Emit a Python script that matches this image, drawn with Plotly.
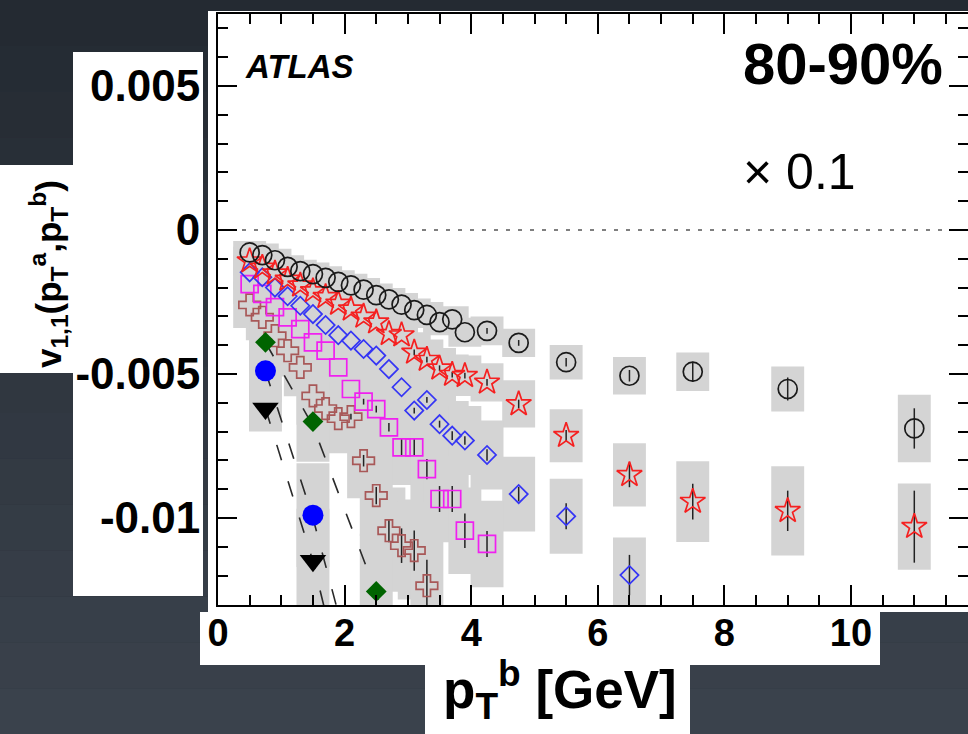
import plotly.graph_objects as go

# ---------------- data ----------------
pt_bins = [0.5, 0.7, 0.9, 1.1, 1.3, 1.5, 1.7, 1.9, 2.1, 2.3, 2.5, 2.7, 2.9, 3.1, 3.3,
           3.5, 3.7, 3.9, 4.25, 4.75, 5.5, 6.5, 7.5, 9.0, 11.0]

circ_y = [-0.00078, -0.00087, -0.00105, -0.00128, -0.00143, -0.00153, -0.00166, -0.00180,
          -0.00192, -0.00207, -0.00226, -0.00241, -0.00259, -0.00278, -0.00295, -0.00320,
          -0.00310, -0.00355, -0.00350, -0.00392, -0.00459, -0.00506, -0.00492, -0.00552,
          -0.00689]
circ_sys = [0.0004, 0.0004, 0.0004, 0.0004, 0.0004, 0.0004, 0.0004, 0.0004, 0.0004, 0.0004,
            0.0004, 0.0004, 0.0004, 0.0004, 0.00045, 0.00045, 0.00045, 0.0005, 0.0005, 0.00049,
            0.0006, 0.00065, 0.00067, 0.00078, 0.00117]
circ_err = [0, 0, 0, 0, 0, 0, 0, 0, 0, 0, 0, 0, 0, 0, 0, 0, 0, 0, 0.0001, 0.0001,
            0.00015, 0.0002, 0.00035, 0.0004, 0.0007]

star_y = [-0.00108, -0.00130, -0.00150, -0.00172, -0.00192, -0.00212, -0.00232, -0.00255,
          -0.00275, -0.00300, -0.00320, -0.00360, -0.00365, -0.00425, -0.00450, -0.00480,
          -0.00502, -0.00506, -0.00529, -0.00604, -0.00714, -0.00850, -0.00943, -0.00975,
          -0.01030]
star_sys = [0.0005, 0.0005, 0.0005, 0.0005, 0.0005, 0.00055, 0.00055, 0.00055, 0.0006, 0.0006,
            0.0006, 0.00065, 0.00065, 0.0007, 0.0007, 0.0007, 0.0007, 0.0007, 0.00066, 0.00082,
            0.00092, 0.0011, 0.0014, 0.00155, 0.0015]
star_err = [0, 0, 0, 0, 0, 0, 0, 0, 0, 0, 0, 0, 0, 0.0001, 0.0001, 0.0001, 0.0001, 0.0001,
            0.00012, 0.00015, 0.0002, 0.00043, 0.00062, 0.0007, 0.00125]

diam_x = [0.5, 0.7, 0.9, 1.1, 1.3, 1.5, 1.7, 1.9, 2.1, 2.3, 2.5, 2.7, 2.9, 3.1, 3.3,
          3.5, 3.7, 3.9, 4.25, 4.75, 5.5, 6.5]
diam_y = [-0.00147, -0.00164, -0.00200, -0.00230, -0.00263, -0.00292, -0.00330, -0.00365,
          -0.00384, -0.00413, -0.00436, -0.00483, -0.00546, -0.00627, -0.00590, -0.00674,
          -0.00714, -0.00731, -0.00781, -0.00917, -0.00994, -0.01198]
diam_sys = [0.0006, 0.0006, 0.0007, 0.0007, 0.0007, 0.0008, 0.0008, 0.0008, 0.0009, 0.0009,
            0.0009, 0.001, 0.001, 0.0011, 0.0011, 0.0011, 0.0012, 0.0012, 0.0012, 0.0013,
            0.0013, 0.0013]
diam_err = [0, 0, 0, 0, 0, 0, 0, 0, 0, 0, 0, 0, 0, 0.0001, 0.0001, 0.00012, 0.00015, 0.00015,
            0.0002, 0.00025, 0.00045, 0.0007]

sq_x = [0.5, 0.7, 0.9, 1.1, 1.3, 1.5, 1.7, 1.9, 2.1, 2.3, 2.5, 2.7, 2.9, 3.1, 3.3,
        3.5, 3.7, 3.9, 4.25]
sq_y = [-0.00188, -0.00222, -0.00268, -0.00303, -0.00344, -0.00390, -0.00419, -0.00477,
        -0.00552, -0.00596, -0.00622, -0.00685, -0.00755, -0.00755, -0.00830, -0.00934,
        -0.00934, -0.01044, -0.01090]
sq_sys = [0.0007, 0.0007, 0.0008, 0.0008, 0.0009, 0.0009, 0.001, 0.001, 0.0011, 0.0011,
          0.0012, 0.0012, 0.0013, 0.0013, 0.0014, 0.0014, 0.0015, 0.0015, 0.0015]
sq_err = [0, 0, 0, 0, 0, 0, 0, 0, 0, 0.0001, 0.00012, 0.00015, 0.0003, 0.0003, 0.00035,
          0.00045, 0.00045, 0.0006, 0.00045]

cross_x = [0.5, 0.7, 0.9, 1.1, 1.3, 1.5, 1.7, 1.9, 2.1, 2.3, 2.5, 2.7, 2.9, 3.1, 3.3]
cross_y = [-0.00260, -0.00303, -0.00367, -0.00419, -0.00477, -0.00576, -0.00620, -0.00655,
           -0.00648, -0.00801, -0.00922, -0.01044, -0.01096, -0.01113, -0.01235]
cross_sys = [0.0008, 0.0008, 0.0009, 0.0009, 0.001, 0.001, 0.0011, 0.0012, 0.0012, 0.0013,
             0.0014, 0.0015, 0.0016, 0.0017, 0.0018]
cross_err = [0, 0, 0, 0, 0, 0, 0, 0, 0.0001, 0.0002, 0.0003, 0.0004, 0.0006, 0.0007, 0.0009]

gdia_x = [0.75, 1.5, 2.5]
gdia_y = [-0.00390, -0.00665, -0.01255]
gdia_sys = [0.0011, 0.0014, 0.002]

bdot_x = [0.75, 1.5]
bdot_y = [-0.00489, -0.00990]
bdot_sys = [0.0011, 0.0018]

tri_x = [0.75, 1.5]
tri_y = [-0.00620, -0.01148]
tri_sys = [0.0008, 0.0018]

fit_green_x = [0.75, 1.5, 2.5, 2.6]
fit_green_y = [-0.0039, -0.0068, -0.0126, -0.0133]
fit_blue_x = [0.75, 1.5, 1.9]
fit_blue_y = [-0.0049, -0.0100, -0.0133]
fit_tri_x = [0.75, 1.5, 1.7]
fit_tri_y = [-0.0062, -0.0115, -0.0133]

zero_x = [0, 12]
zero_y = [0, 0]

y_tickvals = [0.005, 0, -0.005, -0.01]
y_ticktext = ["0.005", "0", "-0.005", "-0.01"]

BOX_W = 0.52

# ---------------- figure ----------------
W, H = 968, 734
L, R, T, B = 218, 0, 14, 129
PW, PH = W - L - R, H - T - B


def px_x(p):
    return (p - L) / PW


def px_y(p):
    return (H - B - p) / PH


fig = go.Figure()

# systematic boxes
box_sets = [
    (pt_bins, circ_y, circ_sys), (pt_bins, star_y, star_sys), (diam_x, diam_y, diam_sys),
    (sq_x, sq_y, sq_sys), (cross_x, cross_y, cross_sys), (gdia_x, gdia_y, gdia_sys),
    (bdot_x, bdot_y, bdot_sys), (tri_x, tri_y, tri_sys),
]
for xs, ys, ss in box_sets:
    fig.add_trace(go.Bar(
        x=xs, y=[2 * s for s in ss], base=[v - s for v, s in zip(ys, ss)],
        width=BOX_W, marker=dict(color="#d4d4d4", line=dict(width=0)),
        hoverinfo="skip", showlegend=False))

# zero line
fig.add_trace(go.Scatter(x=zero_x, y=zero_y, mode="lines",
                         line=dict(color="#555555", width=1.5, dash="4px,8px"),
                         hoverinfo="skip", showlegend=False))

# dashed curves
for fx, fy in [(fit_green_x, fit_green_y), (fit_blue_x, fit_blue_y), (fit_tri_x, fit_tri_y)]:
    fig.add_trace(go.Scatter(x=fx, y=fy, mode="lines",
                             line=dict(color="#2a2a2a", width=1.6, dash="16px,22px"),
                             hoverinfo="skip", showlegend=False))


def series(xs, ys, errs, symbol, size, color, lw=1.7):
    err = dict(type="data", array=errs, color="#222222", thickness=1.5, width=0) if errs else None
    fig.add_trace(go.Scatter(
        x=xs, y=ys, mode="markers", error_y=err,
        marker=dict(symbol=symbol, size=size, color=color, line=dict(width=lw, color=color)),
        showlegend=False))


series(cross_x, cross_y, cross_err, "cross-open", 18, "#a85858")
series(sq_x, sq_y, sq_err, "square-open", 17, "#f020f0")
series(diam_x, diam_y, diam_err, "diamond-open", 14, "#3535f5")
series(pt_bins, star_y, star_err, "star-open", 19, "#f52020")
series(pt_bins, circ_y, circ_err, "circle-open", 19, "#1a1a1a")
series(gdia_x, gdia_y, None, "diamond", 16, "#006400", 0)
series(bdot_x, bdot_y, None, "circle", 21, "#0000ff", 0)
series(tri_x, tri_y, None, "triangle-down", 23, "#000000", 0)

# ---------------- background patches ----------------
shapes = []
# dark vertical gradient background
top_c = (36, 42, 50)
bot_c = (58, 66, 76)
nb = 16
for i in range(nb):
    f = i / (nb - 1)
    c = tuple(round(a + (b - a) * f) for a, b in zip(top_c, bot_c))
    shapes.append(dict(type="rect", xref="paper", yref="paper", layer="below",
                       x0=px_x(0), x1=px_x(W), y0=px_y(H * (i + 1) / nb), y1=px_y(H * i / nb),
                       fillcolor="rgb(%d,%d,%d)" % c, line=dict(width=0)))
white_boxes = [
    (208, 11, 968, 612),   # plot image
    (73, 52, 203, 596),    # y tick labels
    (0, 165, 73, 373),     # y title
    (200, 612, 880, 665),  # x tick labels
    (425, 665, 690, 734),  # x title
]
for x0, y0, x1, y1 in white_boxes:
    shapes.append(dict(type="rect", xref="paper", yref="paper", layer="below",
                       x0=px_x(x0), x1=px_x(x1), y0=px_y(y1), y1=px_y(y0),
                       fillcolor="white", line=dict(width=0)))

FONT = "Liberation Sans, Arial, Helvetica, sans-serif"

annotations = [
    dict(text="<b><i>ATLAS</i></b>", x=px_x(243), y=px_y(67), xref="paper", yref="paper",
         xanchor="left", yanchor="middle", showarrow=False,
         font=dict(family=FONT, size=33, color="black")),
    dict(text="<b>80-90%</b>", x=px_x(741), y=px_y(64), xref="paper", yref="paper",
         xanchor="left", yanchor="middle", showarrow=False,
         font=dict(family=FONT, size=58, color="black")),
    dict(text="× 0.1", x=px_x(741), y=px_y(172), xref="paper", yref="paper",
         xanchor="left", yanchor="middle", showarrow=False,
         font=dict(family=FONT, size=50, color="black")),
    dict(text="<b>v<sub>1,1</sub>(p<sub>T</sub><sup>a</sup>,p<sub>T</sub><sup>b</sup>)</b>",
         x=px_x(48), y=px_y(274), xref="paper", yref="paper", textangle=-90,
         xanchor="center", yanchor="middle", showarrow=False,
         font=dict(family=FONT, size=35, color="black")),
    dict(text="<b>p<sub>T</sub><sup>b</sup> [GeV]</b>", x=px_x(560), y=px_y(689),
         xref="paper", yref="paper", xanchor="center", yanchor="middle", showarrow=False,
         font=dict(family=FONT, size=53, color="black")),
]

fig.update_layout(
    template="none",
    width=W, height=H,
    margin=dict(l=L, r=R, t=T, b=B, pad=0),
    paper_bgcolor="rgb(44,51,60)",
    plot_bgcolor="white",
    barmode="overlay",
    showlegend=False,
    shapes=shapes,
    annotations=annotations,
    xaxis=dict(range=[0, (W - L) / 63.3], showgrid=False, zeroline=False, automargin=False,
               showline=True, linecolor="black", linewidth=2, mirror="allticks",
               ticks="inside", ticklen=20, tickwidth=1.5, tickcolor="black",
               tickmode="linear", tick0=0, dtick=2, ticklabelstandoff=-7,
               tickfont=dict(family=FONT, size=38, color="black", weight="bold"),
               minor=dict(ticks="inside", ticklen=10, tickwidth=1.5, tickcolor="black",
                          tick0=0, dtick=0.5, showgrid=False)),
    yaxis=dict(range=[-0.01302, 0.0075], showgrid=False, zeroline=False, automargin=False,
               showline=True, linecolor="black", linewidth=2, mirror="allticks",
               ticks="inside", ticklen=19, tickwidth=1.5, tickcolor="black",
               tickmode="array", tickvals=y_tickvals, ticktext=y_ticktext,
               ticklabelstandoff=7,
               tickfont=dict(family=FONT, size=44, color="black", weight="bold"),
               minor=dict(ticks="inside", ticklen=10, tickwidth=1.5, tickcolor="black",
                          tickmode="linear", tick0=0, dtick=0.001, showgrid=False)),
)

fig.write_html("out.html")
